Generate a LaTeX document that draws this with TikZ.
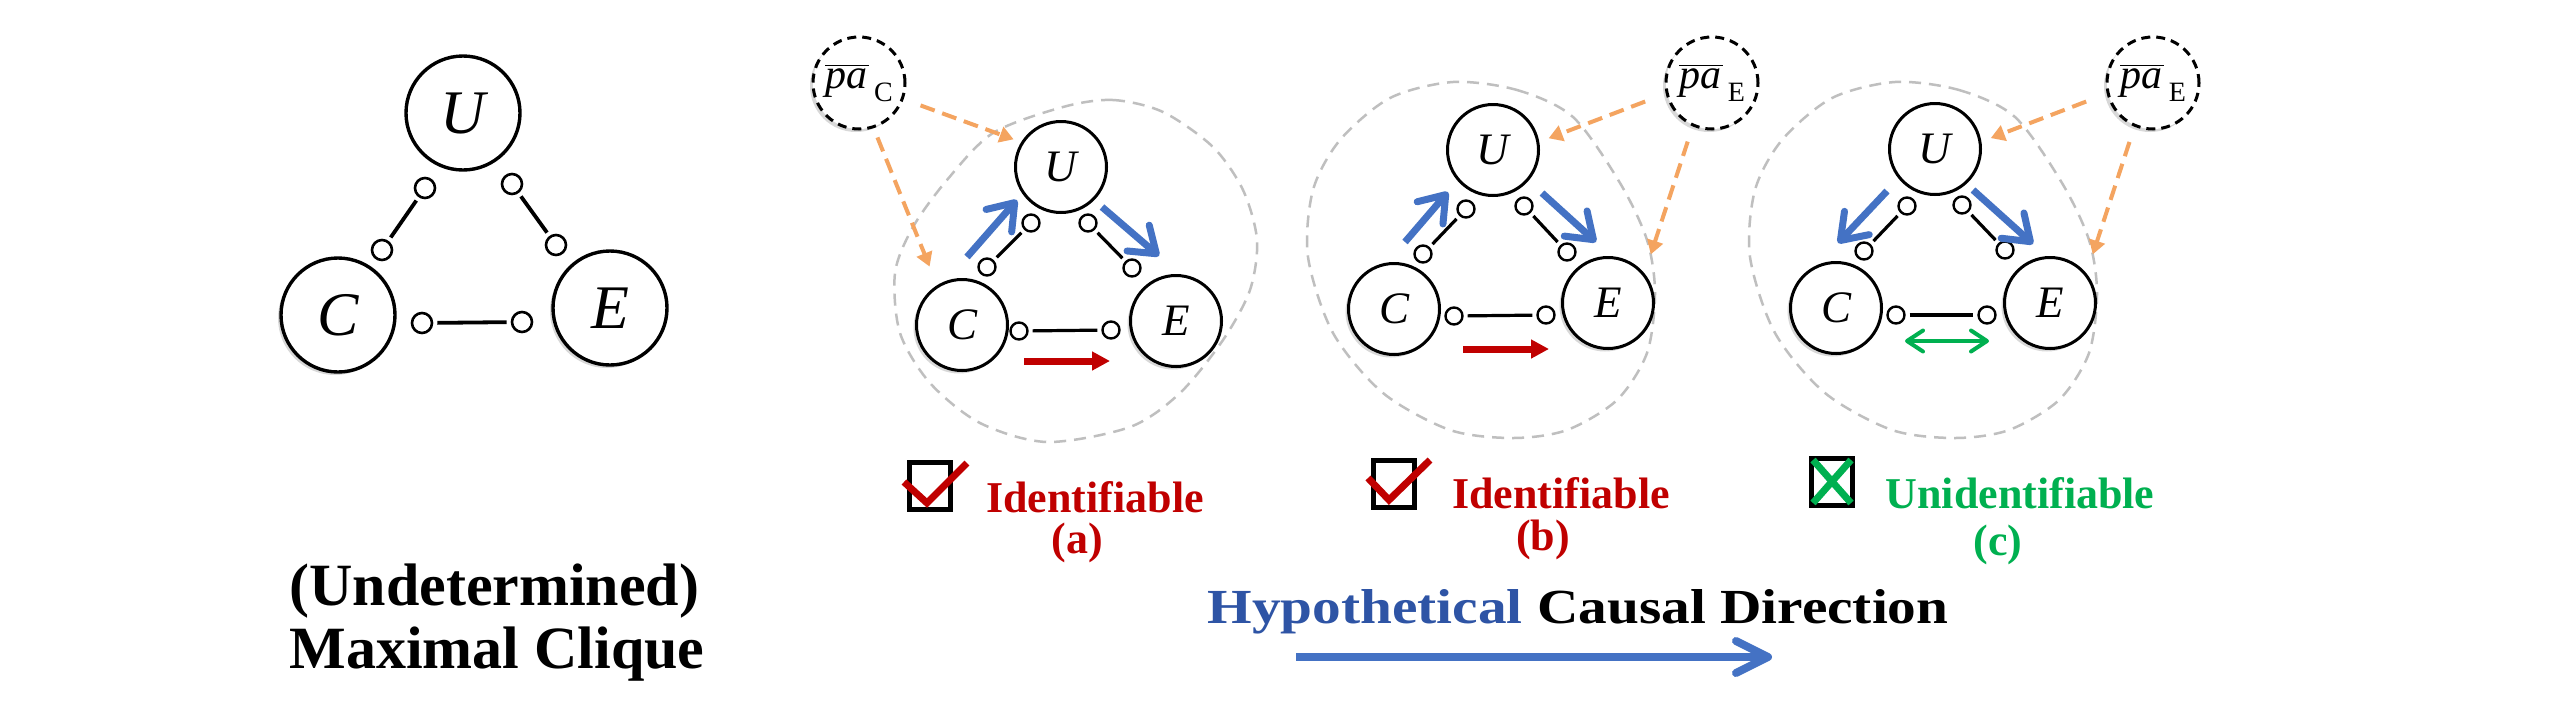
\documentclass[tikz,border=0pt]{standalone}
\usepackage{fontspec}
\usepackage{graphicx}
\setmainfont{Liberation Serif}
\usetikzlibrary{arrows.meta,shadows}
\definecolor{arrblue}{HTML}{4472C4}
\definecolor{hblue}{HTML}{2E54A5}
\definecolor{dred}{HTML}{C00000}
\definecolor{grn}{HTML}{00B050}
\definecolor{orng}{HTML}{F4A460}
\definecolor{loopgrey}{HTML}{BFBFBF}
\newcommand{\paname}[1]{$\overline{\mbox{\itshape pa\kern0.05em}}$\raisebox{-0.32em}{\fontsize{14}{16}\selectfont\,#1}}
\begin{document}
\begin{tikzpicture}[x=0.5pt,y=-0.5pt,
  shd/.style={drop shadow={opacity=0.3, shadow xshift=-1.5pt, shadow yshift=-1.5pt}},
  bigL/.style={circle, draw, line width=1.7pt, fill=white, minimum size=57pt, inner sep=0pt, font=\itshape\fontsize{31}{36}\selectfont},
  smallL/.style={circle, draw, line width=1.3pt, fill=white, minimum size=10pt, inner sep=0pt},
  edgeL/.style={line width=1.9pt, shorten <=2pt, shorten >=2pt},
  bigP/.style={circle, draw, line width=1.5pt, fill=white, minimum size=45.5pt, inner sep=0pt, font=\itshape\fontsize{22.5}{26}\selectfont},
  smallP/.style={circle, draw, line width=1.2pt, fill=white, minimum size=8.5pt, inner sep=0pt},
  edgeP/.style={line width=1.6pt, shorten <=2pt, shorten >=2pt},
  pacirc/.style={circle, draw, line width=1.5pt, dash pattern=on 4.5pt off 3pt, fill=white, minimum size=46pt, inner sep=0pt, font=\fontsize{21}{24}\selectfont},
  loopline/.style={draw=loopgrey, line width=1.25pt, dash pattern=on 6pt off 4pt},
  orangearr/.style={draw=orng, line width=2pt, dash pattern=on 7.5pt off 4pt, -{Triangle[length=7pt,width=8pt]}},
  bluearr/.style={draw=arrblue, line width=3.5pt, -{Straight Barb[length=12pt,width=17pt,round]}},
  redarr/.style={draw=dred, fill=dred, line width=3.5pt, -{Triangle[length=9pt,width=9pt]}},
  greenarr/.style={draw=grn, line width=2pt, {Straight Barb[length=8pt,width=10.5pt,round]}-{Straight Barb[length=8pt,width=10.5pt,round]}},
  hyparr/.style={draw=arrblue, line width=4pt, -{Straight Barb[length=16pt,width=16pt,round]}},
  txtL/.style={inner sep=0pt, anchor=base west, font=\bfseries\fontsize{30}{36}\selectfont},
  txtP/.style={inner sep=0pt, anchor=base, font=\bfseries\fontsize{22}{26}\selectfont},
  cbox/.style={draw=black, line width=2.5pt, fill=white, minimum width=20.5pt, minimum height=23.5pt, inner sep=0pt},
  checkmk/.style={draw=dred, line width=3.5pt},
  crossmk/.style={draw=grn, line width=3.5pt}
]
\useasboundingbox (0,0) rectangle (2560,719);
\fill[white] (0,0) rectangle (2560,719);

% ---------------- left: maximal clique ----------------
\node[bigL] (U0) at (463,113) {U};
\node[bigL, shd] (C0) at (338,315) {C};
\node[bigL, shd] (E0) at (610,308) {E};
\node[smallL] (u0a) at (425,188) {};
\node[smallL] (c0a) at (382,250) {};
\node[smallL] (u0b) at (512,184) {};
\node[smallL] (e0a) at (556,245) {};
\node[smallL] (c0b) at (422,323) {};
\node[smallL] (e0b) at (522,322) {};
\draw[edgeL] (u0a) -- (c0a);
\draw[edgeL] (u0b) -- (e0a);
\draw[edgeL] (c0b) -- (e0b);
\node[txtL] (und) at (289,605) {(Undetermined)};
\node[txtL] (mcl) at (289,668) {Maximal Clique};

% ---------------- panel (a) ----------------
\draw[loopline] plot[smooth cycle] coordinates {(1063,107) (1113,100) (1163,112) (1213,147) (1243,190) (1257,240) (1250,290) (1223,340) (1180,393) (1130,427) (1047,442) (980,423) (930,383) (900,333) (895,273) (913,227) (947,180) (993,133)};
\node[bigP] (Ua) at (1061,167) {U};
\node[bigP, shd] (Ca) at (962,325) {C};
\node[bigP, shd] (Ea) at (1176,321) {E};
\node[smallP] (ua1) at (1031,223) {};
\node[smallP] (ca1) at (987,267) {};
\node[smallP] (ua2) at (1088,223) {};
\node[smallP] (ea1) at (1132,268) {};
\node[smallP] (ca2) at (1019,331) {};
\node[smallP] (ea2) at (1111,330) {};
\draw[edgeP] (ua1) -- (ca1);
\draw[edgeP] (ua2) -- (ea1);
\draw[edgeP] (ca2) -- (ea2);
\node[pacirc, shd] (paa) at (859,83) {\paname{C}};
\draw[orangearr, shorten <=9pt, shorten >=4pt] (paa.340) -- (Ua.148);
\draw[orangearr, shorten <=5pt, shorten >=10pt] (paa.288) -- (Ca.122);
\coordinate (ba1s) at (967,257); \coordinate (ba1e) at (1017,200);
\coordinate (ba2s) at (1102,207); \coordinate (ba2e) at (1159,256);
\draw[bluearr] (ba1s) -- (ba1e);
\draw[bluearr] (ba2s) -- (ba2e);
\coordinate (raS) at (1024,361); \coordinate (raE) at (1110,361);
\draw[redarr] (raS) -- (raE);
\node[cbox] (boxa) at (930,486) {};
\draw[checkmk] (904,482) -- (927,503) -- (967,463);
\node[txtP, text=dred] (ida) at (1095,512) {Identifiable};
\node[txtP, text=dred] (laba) at (1077,553) {(a)};

% ---------------- panel (b) ----------------
\draw[loopline] plot[smooth cycle] coordinates {(1453,82) (1517,90) (1573,117) (1620,183) (1647,240) (1655,293) (1647,353) (1617,400) (1567,430) (1513,438) (1450,430) (1383,393) (1333,333) (1308,257) (1313,190) (1340,140) (1390,98)};
\node[bigP] (Ub) at (1493,150) {U};
\node[bigP, shd] (Cb) at (1394,309) {C};
\node[bigP, shd] (Eb) at (1608,303) {E};
\node[smallP] (ub1) at (1466,209) {};
\node[smallP] (cb1) at (1423,254) {};
\node[smallP] (ub2) at (1524,206) {};
\node[smallP] (eb1) at (1567,252) {};
\node[smallP] (cb2) at (1454,316) {};
\node[smallP] (eb2) at (1546,315) {};
\draw[edgeP] (ub1) -- (cb1);
\draw[edgeP] (ub2) -- (eb1);
\draw[edgeP] (cb2) -- (eb2);
\node[pacirc, shd] (pab) at (1712,83) {\paname{E}};
\draw[orangearr, shorten <=11pt, shorten >=5pt] (pab.193) -- (Ub.10);
\draw[orangearr, shorten <=8pt, shorten >=10pt] (pab.246) -- (Eb.39);
\coordinate (bb1s) at (1405,242); \coordinate (bb1e) at (1448,192);
\coordinate (bb2s) at (1542,193); \coordinate (bb2e) at (1596,242);
\draw[bluearr] (bb1s) -- (bb1e);
\draw[bluearr] (bb2s) -- (bb2e);
\coordinate (rbS) at (1463,349); \coordinate (rbE) at (1549,349);
\draw[redarr] (rbS) -- (rbE);
\node[cbox] (boxb) at (1393.5,484) {};
\draw[checkmk] (1368,478) -- (1389,500) -- (1430,460);
\node[txtP, text=dred] (idb) at (1561,508) {Identifiable};
\node[txtP, text=dred] (labb) at (1543,550) {(b)};

% ---------------- panel (c) ----------------
\draw[loopline] plot[smooth cycle] coordinates {(1895,82) (1959,90) (2015,117) (2062,183) (2089,240) (2097,293) (2089,353) (2059,400) (2009,430) (1955,438) (1892,430) (1825,393) (1775,333) (1750,257) (1755,190) (1782,140) (1832,98)};
\node[bigP] (Uc) at (1935,149) {U};
\node[bigP, shd] (Cc) at (1836,308) {C};
\node[bigP, shd] (Ec) at (2050,303) {E};
\node[smallP] (uc1) at (1907,206) {};
\node[smallP] (cc1) at (1864,251) {};
\node[smallP] (uc2) at (1962,205) {};
\node[smallP] (ec1) at (2005,250) {};
\node[smallP] (cc2) at (1896,315) {};
\node[smallP] (ec2) at (1987,315) {};
\draw[edgeP] (uc1) -- (cc1);
\draw[edgeP] (uc2) -- (ec1);
\draw[edgeP] (cc2) -- (ec2);
\node[pacirc, shd] (pac) at (2153,83) {\paname{E}};
\draw[orangearr, shorten <=11pt, shorten >=5pt] (pac.193) -- (Uc.9);
\draw[orangearr, shorten <=8pt, shorten >=10pt] (pac.247) -- (Ec.39);
\coordinate (bc1s) at (1887,191); \coordinate (bc1e) at (1838,243);
\coordinate (bc2s) at (1973,190); \coordinate (bc2e) at (2033,244);
\draw[bluearr] (bc1s) -- (bc1e);
\draw[bluearr] (bc2s) -- (bc2e);
\coordinate (gcS) at (1905,341); \coordinate (gcE) at (1989,341);
\draw[greenarr] (gcS) -- (gcE);
\node[cbox] (boxc) at (1831.5,481.5) {};
\draw[crossmk] (1813,460) -- (1851,503);
\draw[crossmk] (1851,460) -- (1813,503);
\node[txtP, text=grn] (idc) at (2020,508) {Unidentifiable};
\node[txtP, text=grn] (labc) at (1998,555) {(c)};

% ---------------- hypothetical causal direction ----------------
\node[inner sep=0pt, anchor=base, font=\bfseries\fontsize{24.5}{29}\selectfont] (hcd) at (1578,623) {\scalebox{1.17}[1]{\textcolor{hblue}{Hypothetical} Causal Direction}};
\coordinate (h1) at (1296,657); \coordinate (h2) at (1772,657);
\draw[hyparr] (h1) -- (h2);
\end{tikzpicture}
\end{document}
